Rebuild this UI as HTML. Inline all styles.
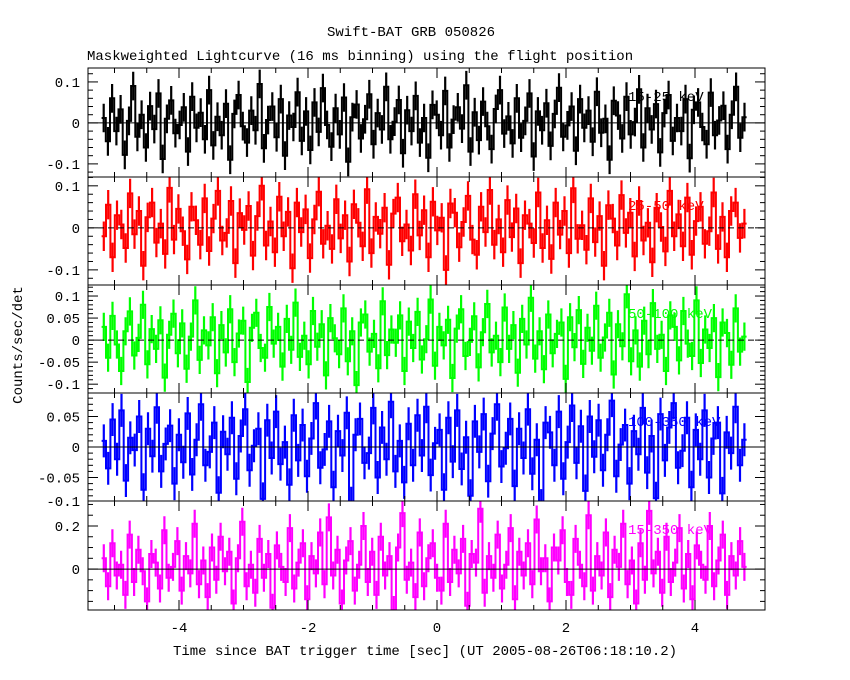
<!DOCTYPE html>
<html><head><meta charset="utf-8"><style>
body{margin:0;background:#fff}
svg{display:block;font-family:"Liberation Mono",monospace}
</style></head><body>
<svg id="chart" width="850" height="680" viewBox="0 0 850 680">
<text x="411" y="36" text-anchor="middle" font-size="14">Swift-BAT GRB 050826</text>
<text x="87" y="60" font-size="14">Maskweighted Lightcurve (16 ms binning) using the flight position</text>
<text x="22" y="345" font-size="14" text-anchor="middle" transform="rotate(-90 22 345)">Counts/sec/det</text>
<text x="425" y="655" font-size="14" text-anchor="middle">Time since BAT trigger time [sec] (UT 2005-08-26T06:18:10.2)</text>
</svg>
<script>
const tStart=-5.2, tEnd=4.8;
const xTicks=[-4,-2,0,2,4];
const band1=[12,-45,60,-20,33,-78,5,90,-34,20,-60,41,-15,72,-88,10,55,-25,-5,38,-70,64,-12,25,-40,80,-55,15,-30,47,-90,22,68,-8,-48,30,-18,95,-62,7,40,-35,58,-80,18,-10,75,-44,28,-66,50,-22,85,-5,-58,36,-28,62,-95,14,45,-38,9,70,-52,24,-16,88,-40,3,56,-74,31,-20,66,-48,12,-85,44,20,-30,78,-60,8,38,-14,92,-70,26,-42,52,-8,-64,34,80,-26,16,-50,60,-36,5,72,-82,28,-18,48,-56,22,86,-34,-6,40,-68,58,-12,30,-46,76,-24,10,-90,54,18,-38,64,-28,2,82,-60,36,-16,46,-72,24,68,-44,12,-20,58,-86,32,50,-10,-52,74,-30,6,42,-64,20,88,-36,14];
const band2=[-20,55,-70,30,8,-48,82,-15,40,-90,25,60,-35,10,-62,95,-28,45,-8,-75,50,18,-40,70,-55,22,88,-30,-12,64,-84,35,-5,52,-66,28,100,-42,15,-58,74,-20,38,-96,60,-10,44,-72,20,86,-38,5,-50,68,-25,30,-80,56,12,-44,92,-60,26,-14,48,-88,34,72,-32,8,-54,80,-18,42,-70,62,-6,24,-100,58,36,-46,14,76,-28,-64,50,-10,90,-40,20,-58,66,-22,46,-84,30,10,-36,84,-48,18,-74,60,-16,40,-60,94,-26,6,-52,70,-34,28,-90,54,22,-42,78,-12,36,-68,64,-30,12,-82,48,2,-56,88,-20,32,-44,72,-64,16,50,-38,-8,84,-50,26,-70,40,60,-24,10];
const band3=[30,-40,55,-10,-70,20,65,-35,5,80,-55,25,-20,45,-85,12,60,-30,38,-65,8,90,-45,22,-12,52,-75,34,-28,70,-50,15,44,-95,28,62,-18,-40,75,-8,30,-60,48,-22,85,-38,10,-55,66,-15,36,-80,50,4,-32,72,-48,20,-102,40,58,-26,14,-64,88,-34,24,-6,56,-70,42,-18,64,-44,2,92,-58,30,-12,46,-86,26,70,-36,-4,54,-62,18,82,-28,10,-50,74,-20,34,-74,48,-10,96,-42,20,-66,58,-30,14,40,-88,52,-16,68,-54,28,-24,78,-40,6,62,-78,36,-14,104,-48,22,-60,44,-32,84,-20,12,-70,56,30,-46,66,-8,-36,90,-52,24,-18,50,-84,40,16,-56,72,-26,8];
const band4=[10,-35,45,-20,60,-55,15,-5,50,-70,30,-15,65,-40,5,35,-60,20,-25,55,-45,12,70,-30,-8,40,-75,25,-12,48,-52,18,62,-38,2,30,-85,44,-18,58,-28,8,-62,52,-22,36,-48,14,72,-34,-4,42,-66,26,-14,56,-92,20,46,-26,-10,64,-50,32,-20,74,-40,10,-58,38,-30,52,-14,66,-46,6,28,-70,48,-24,60,-36,16,-80,42,-8,54,-56,22,70,-32,-2,46,-64,30,-18,62,-44,12,-96,40,24,-30,58,-52,8,68,-26,34,-72,50,-16,44,-38,20,76,-48,4,36,-60,26,-12,64,-42,18,-84,54,-22,32,72,-34,-6,48,-66,28,-20,60,-50,14,40,-76,24,-10,66,-30,12];
const band5=[50,-80,120,-30,20,-120,160,-60,90,-10,-150,70,30,-90,180,-40,10,130,-100,60,-20,210,-70,40,-130,100,-50,150,-10,80,-160,50,220,-80,20,-110,140,-40,70,-180,110,10,-60,190,-90,30,120,-140,60,-20,170,-70,240,-30,90,-160,40,130,-100,20,200,-60,80,-120,150,-30,60,-190,100,260,-50,30,-130,170,-80,50,120,-40,-100,210,-60,90,-20,140,-170,70,30,280,-110,60,-40,160,-90,20,190,-140,80,-30,120,-70,230,-10,50,-150,100,40,180,-60,-120,140,20,-80,250,-100,60,-30,170,-130,90,10,210,-70,40,-160,120,-50,270,-20,80,-110,150,-60,30,190,-90,70,-140,110,20,-50,200,-80,40,160,-120,60,-30,130,10];
const panels=[
 {d:band1,top:68,bot:177,ymax:0.134,ymin:-0.132,c:"#000",ticks:[0.1,0,-0.1],lab:["0.1","0","-0.1"],minor:0.02,name:"15-25 keV",dash:false,err:35,sc:1000},
 {d:band2,top:177,bot:285,ymax:0.121,ymin:-0.136,c:"#f00",ticks:[0.1,0,-0.1],lab:["0.1","0","-0.1"],minor:0.02,name:"25-50 keV",dash:true,err:35,sc:1000},
 {d:band3,top:285,bot:393,ymax:0.125,ymin:-0.12,c:"#0f0",ticks:[0.1,0.05,0,-0.05,-0.1],lab:["0.1","0.05","0","-0.05","-0.1"],minor:0.01,name:"50-100 keV",dash:true,err:32,sc:1000},
 {d:band4,top:393,bot:501,ymax:0.0885,ymin:-0.0885,c:"#00f",ticks:[0.05,0,-0.05,-0.1],lab:["0.05","0","-0.05","-0.1"],minor:0.01,name:"100-350 keV",dash:false,err:27,sc:1000},
 {d:band5,top:501,bot:610,ymax:0.316,ymin:-0.19,c:"#f0f",ticks:[0.2,0],lab:["0.2","0"],minor:0.05,name:"15-350 keV",dash:false,err:65,sc:1000}
];
const NS="http://www.w3.org/2000/svg";
const svg=document.getElementById("chart");
const L=88,R=765;
const xs=t=>437+t*64.5;
function mk(tag,attrs,parent){const e=document.createElementNS(NS,tag);for(const k in attrs)e.setAttribute(k,attrs[k]);(parent||svg).appendChild(e);return e;}
panels.forEach((p,pi)=>{
 const g=mk("g",{});
 
 
 const ys=v=>p.top+(p.ymax-v)/(p.ymax-p.ymin)*(p.bot-p.top);
 const clip=mk("clipPath",{id:"c"+pi},g);
 mk("rect",{x:L,y:p.top,width:R-L,height:p.bot-p.top},clip);
 const dg=mk("g",{"clip-path":"url(#c"+pi+")"},g);
 const n=p.d.length, dt=(tEnd-tStart)/n;
 let err="",line="";
 p.d.forEach((v,i)=>{
  const val=v/p.sc, e=p.err/p.sc;
  const x0=xs(tStart+i*dt), x1=xs(tStart+(i+1)*dt), xm=(x0+x1)/2;
  err+=`M${xm.toFixed(1)},${ys(val+e).toFixed(1)}V${ys(val-e).toFixed(1)}`;
  line+=(i?"L":"M")+x0.toFixed(1)+","+ys(val).toFixed(1)+"H"+x1.toFixed(1);
 });
 const ln=mk("path",{d:line,stroke:p.c,"stroke-width":2,fill:"none"},dg);
 
 
 const eb=mk("path",{d:err,stroke:p.c,"stroke-width":2.2,fill:"none"},dg);
 
 
 mk("line",{x1:L,x2:R,y1:ys(0),y2:ys(0),stroke:"#000","stroke-width":1,"stroke-dasharray":p.dash?"6,4":"none"},g);
 const lb=mk("text",{x:628,y:p.top+33,"font-size":14,fill:p.c},g);
 lb.textContent=p.name;
 
 
 mk("rect",{x:L,y:p.top,width:R-L,height:p.bot-p.top,fill:"none",stroke:"#000","stroke-width":1},g);
 for(let v=Math.ceil(p.ymin/p.minor)*p.minor;v<=p.ymax;v+=p.minor){
  const y=ys(v);
  const major=p.ticks.some(t=>Math.abs(t-v)<1e-6);
  const len=major?10:5;
  mk("line",{x1:L,x2:L+len,y1:y,y2:y,stroke:"#000"},g);
  mk("line",{x1:R,x2:R-len,y1:y,y2:y,stroke:"#000"},g);
 }
 p.ticks.forEach((t,k)=>{
  const tx=mk("text",{x:L-8,y:Math.min(ys(t)+5,p.bot+5),"font-size":14,"text-anchor":"end"},g);
  tx.textContent=p.lab[k];
  
  
 });
 for(let t=-5;t<=4.8;t+=0.5){
  const x=xs(t);const major=Math.abs(t-Math.round(t/2)*2)<1e-6;const len=major?10:5;
  mk("line",{x1:x,x2:x,y1:p.top,y2:p.top+len,stroke:"#000"},g);
  mk("line",{x1:x,x2:x,y1:p.bot,y2:p.bot-len,stroke:"#000"},g);
 }
});
xTicks.forEach(t=>{
 const tx=mk("text",{x:xs(t),y:632,"font-size":14,"text-anchor":"middle"});
 tx.textContent=t<0?"-"+(-t):String(t);
 
 
});
</script>
</body></html>
